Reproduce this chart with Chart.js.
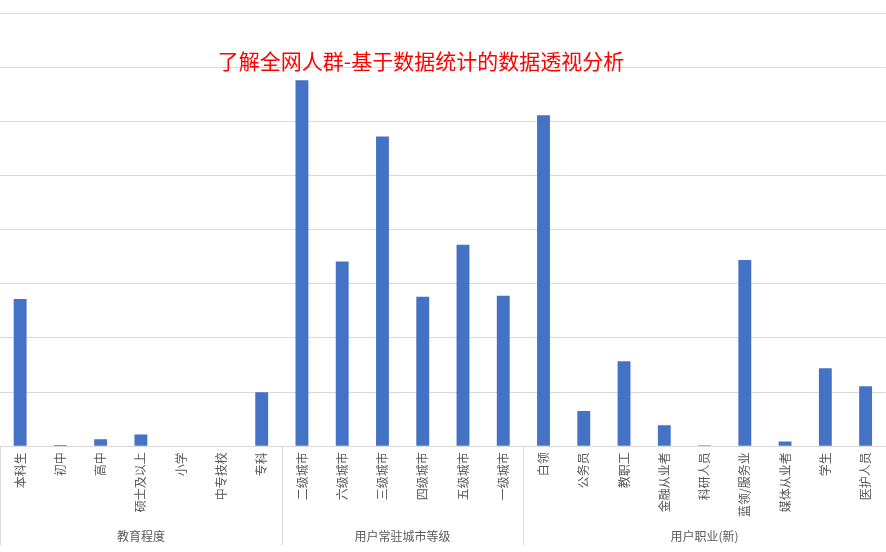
<!DOCTYPE html>
<html><head><meta charset="utf-8">
<script src="https://cdn.jsdelivr.net/npm/chart.js@4/dist/chart.umd.min.js"></script>
<style>html,body{margin:0;padding:0;background:#fff;overflow:hidden}#wrap{width:886px;height:552px;position:relative}</style>
</head><body><div id="wrap"><canvas id="c"></canvas></div>
<script>
const chartTitle = '了解全网人群-基于数据统计的数据透视分析';
const categories = ['本科生','初中','高中','硕士及以上','小学','中专技校','专科',
  '二级城市','六级城市','三级城市','四级城市','五级城市','一级城市',
  '白领','公务员','教职工','金融从业者','科研人员','蓝领/服务业','媒体从业者','学生','医护人员'];
const values = [2.72,0.024,0.13,0.22,0,0,1.0,
  6.76,3.41,5.72,2.76,3.72,2.78,
  6.11,0.65,1.57,0.39,0.02,3.44,0.09,1.44,1.11];
const groupNames = ['教育程度','用户常驻城市等级','用户职业(新)'];
const groupSizes = [7,6,9];
const yMin = 0, yMax = 8, yStep = 1;

const FONT = '"Noto Sans CJK SC","Noto Sans",sans-serif';
const GRID = '#d9d9d9';
const TEXT = '#595959';

const groupPlugin = {
  id: 'groupAxis',
  afterDraw(chart) {
    const ctx = chart.ctx, x = chart.scales.x, area = chart.chartArea;
    const half = (x.getPixelForValue(1) - x.getPixelForValue(0)) / 2;
    ctx.save();
    ctx.strokeStyle = GRID; ctx.lineWidth = 1;
    ctx.fillStyle = TEXT; ctx.font = '12px ' + FONT;
    ctx.textAlign = 'center'; ctx.textBaseline = 'middle';
    let start = 0;
    groupSizes.forEach((n, i) => {
      const l = x.getPixelForValue(start) - half;
      const r = x.getPixelForValue(start + n - 1) + half;
      const lx = Math.round(l) + 0.5;
      ctx.beginPath(); ctx.moveTo(lx, area.bottom); ctx.lineTo(lx, area.bottom + 99); ctx.stroke();
      ctx.fillText(groupNames[i], (l + r) / 2, area.bottom + 90);
      start += n;
    });
    ctx.restore();
  }
};
const titlePlugin = {
  id: 'overTitle',
  afterDraw(chart) {
    const ctx = chart.ctx;
    ctx.save();
    ctx.fillStyle = '#FF0000';
    ctx.font = '21px ' + FONT;
    ctx.textAlign = 'center'; ctx.textBaseline = 'middle';
    ctx.fillText(chartTitle, 421, 61);
    ctx.restore();
  }
};

new Chart(document.getElementById('c'), {
  type: 'bar',
  data: { labels: categories, datasets: [{ data: values, backgroundColor: '#4472C4', barPercentage: 0.32, categoryPercentage: 1 }] },
  options: {
    responsive: true, maintainAspectRatio: false, animation: false,
    layout: { padding: { top: 13, left: 0, right: 0, bottom: 29 } },
    plugins: { legend: { display: false }, tooltip: { enabled: false }, title: { display: false } },
    scales: {
      x: {
        grid: { display: false, drawTicks: false },
        border: { display: true, color: GRID },
        ticks: { autoSkip: false, maxRotation: 90, minRotation: 90, padding: 6, color: TEXT, font: { size: 12, family: FONT } }
      },
      y: {
        min: yMin, max: yMax,
        grid: { color: GRID, drawTicks: false },
        border: { display: false },
        ticks: { display: false, stepSize: yStep }
      }
    }
  },
  plugins: [groupPlugin, titlePlugin]
});
</script></body></html>
